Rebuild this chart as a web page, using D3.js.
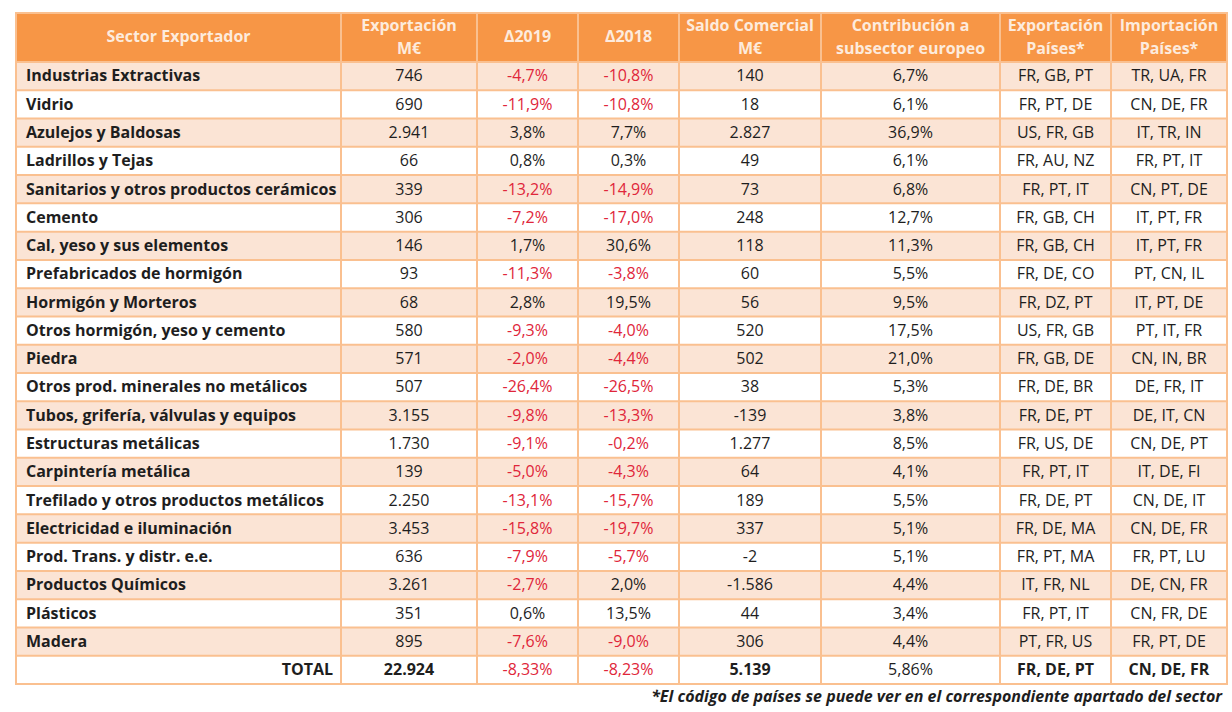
<!DOCTYPE html>
<html>
<head>
<meta charset="utf-8">
<script src="https://cdn.jsdelivr.net/npm/d3@7"></script>
<style>
  html, body { margin: 0; padding: 0; background: #fff; }
  svg text { font-family: "Open Sans", Lato, sans-serif; }
</style>
</head>
<body>
<svg id="chart" width="1232" height="712"></svg>
<script>
// ---------- DATA ----------
const headers = [
  ["Sector Exportador"],
  ["Exportación", "M€"],
  ["Δ2019"],
  ["Δ2018"],
  ["Saldo Comercial", "M€"],
  ["Contribución a", "subsector europeo"],
  ["Exportación", "Países*"],
  ["Importación", "Países*"]
];
const sectors = [
  "Industrias Extractivas", "Vidrio", "Azulejos y Baldosas", "Ladrillos y Tejas",
  "Sanitarios y otros productos cerámicos", "Cemento", "Cal, yeso y sus elementos",
  "Prefabricados de hormigón", "Hormigón y Morteros", "Otros hormigón, yeso y cemento",
  "Piedra", "Otros prod. minerales no metálicos", "Tubos, grifería, válvulas y equipos",
  "Estructuras metálicas", "Carpintería metálica", "Trefilado y otros productos metálicos",
  "Electricidad e iluminación", "Prod. Trans. y distr. e.e.", "Productos Químicos",
  "Plásticos", "Madera"
];
const exportacion = ["746","690","2.941","66","339","306","146","93","68","580","571","507","3.155","1.730","139","2.250","3.453","636","3.261","351","895"];
const delta2019 = ["-4,7%","-11,9%","3,8%","0,8%","-13,2%","-7,2%","1,7%","-11,3%","2,8%","-9,3%","-2,0%","-26,4%","-9,8%","-9,1%","-5,0%","-13,1%","-15,8%","-7,9%","-2,7%","0,6%","-7,6%"];
const delta2018 = ["-10,8%","-10,8%","7,7%","0,3%","-14,9%","-17,0%","30,6%","-3,8%","19,5%","-4,0%","-4,4%","-26,5%","-13,3%","-0,2%","-4,3%","-15,7%","-19,7%","-5,7%","2,0%","13,5%","-9,0%"];
const saldo = ["140","18","2.827","49","73","248","118","60","56","520","502","38","-139","1.277","64","189","337","-2","-1.586","44","306"];
const contribucion = ["6,7%","6,1%","36,9%","6,1%","6,8%","12,7%","11,3%","5,5%","9,5%","17,5%","21,0%","5,3%","3,8%","8,5%","4,1%","5,5%","5,1%","5,1%","4,4%","3,4%","4,4%"];
const expPaises = ["FR, GB, PT","FR, PT, DE","US, FR, GB","FR, AU, NZ","FR, PT, IT","FR, GB, CH","FR, GB, CH","FR, DE, CO","FR, DZ, PT","US, FR, GB","FR, GB, DE","FR, DE, BR","FR, DE, PT","FR, US, DE","FR, PT, IT","FR, DE, PT","FR, DE, MA","FR, PT, MA","IT, FR, NL","FR, PT, IT","PT, FR, US"];
const impPaises = ["TR, UA, FR","CN, DE, FR","IT, TR, IN","FR, PT, IT","CN, PT, DE","IT, PT, FR","IT, PT, FR","PT, CN, IL","IT, PT, DE","PT, IT, FR","CN, IN, BR","DE, FR, IT","DE, IT, CN","CN, DE, PT","IT, DE, FI","CN, DE, IT","CN, DE, FR","FR, PT, LU","DE, CN, FR","CN, FR, DE","FR, PT, DE"];
const totalRow = ["TOTAL","22.924","-8,33%","-8,23%","5.139","5,86%","FR, DE, PT","CN, DE, FR"];
const footnote = "*El código de países se puede ver en el correspondiente apartado del sector";

// ---------- LAYOUT ----------
const colEdges = [16, 341, 477, 578, 679, 821, 1000, 1111, 1227];
const tableTop = 13, headerBottom = 62, tableBottom = 684;
const FS = 16;
const C = {
  header: "#F79646", headerText: "#FDEBDD", band: "#FBE4D5",
  border: "#FAC090", text: "#1E1E1E", red: "#E0263A"
};

const svg = d3.select("#chart");
const rowKeys = sectors.concat(["TOTAL"]);
const y = d3.scaleBand().domain(rowKeys).range([headerBottom, tableBottom]);

const rows = sectors.map((s, i) => [s, exportacion[i], delta2019[i], delta2018[i], saldo[i], contribucion[i], expPaises[i], impPaises[i]]);
rows.push(totalRow);

// header background
svg.append("rect").attr("x", colEdges[0]).attr("y", tableTop)
  .attr("width", colEdges[8] - colEdges[0]).attr("height", headerBottom - tableTop)
  .attr("fill", C.header);

// row bands
svg.selectAll("rect.band").data(rowKeys).join("rect").attr("class", "band")
  .attr("x", colEdges[0]).attr("y", d => y(d))
  .attr("width", colEdges[8] - colEdges[0]).attr("height", y.bandwidth())
  .attr("fill", (d, i) => (i % 2 === 0 && d !== "TOTAL") ? C.band : "#fff");

// header text
headers.forEach((h, c) => {
  const cx = (colEdges[c] + colEdges[c + 1]) / 2;
  const t = svg.append("text").attr("x", cx).attr("text-anchor", "middle")
    .attr("fill", C.headerText).attr("font-weight", "bold").attr("font-size", FS);
  if (h.length === 1) {
    t.attr("y", 38).attr("dominant-baseline", "middle").text(h[0]);
  } else {
    t.append("tspan").attr("x", cx).attr("y", 27).attr("dominant-baseline", "middle").text(h[0]);
    t.append("tspan").attr("x", cx).attr("y", 50).attr("dominant-baseline", "middle").text(h[1]);
  }
});

// cell text
rows.forEach((r, ri) => {
  const isTotal = ri === rows.length - 1;
  const key = rowKeys[ri];
  const cy = y(key) + y.bandwidth() / 2 + 1;
  r.forEach((v, c) => {
    const isRed = (c === 2 || c === 3) && v.startsWith("-");
    let bold = false;
    if (c === 0) bold = true;
    if (isTotal && (c === 1 || c === 4 || c === 6 || c === 7)) bold = true;
    const t = svg.append("text")
      .attr("y", cy).attr("dominant-baseline", "middle")
      .attr("font-size", FS)
      .attr("font-weight", bold ? "bold" : "normal")
      .attr("fill", isRed ? C.red : C.text)
      .text(v);
    if (c === 0) {
      if (isTotal) t.attr("x", colEdges[1] - 8).attr("text-anchor", "end");
      else t.attr("x", colEdges[0] + 10).attr("text-anchor", "start");
    } else {
      t.attr("x", (colEdges[c] + colEdges[c + 1]) / 2).attr("text-anchor", "middle");
    }
  });
});

// grid lines
const g = svg.append("g").attr("stroke", C.border).attr("stroke-width", 2).attr("fill", "none");
rowKeys.forEach(k => {
  g.append("line").attr("x1", colEdges[0]).attr("x2", colEdges[8]).attr("y1", y(k)).attr("y2", y(k));
});
colEdges.slice(1, -1).forEach(x => {
  g.append("line").attr("x1", x).attr("x2", x).attr("y1", tableTop).attr("y2", tableBottom);
});
g.append("rect").attr("x", colEdges[0]).attr("y", tableTop)
  .attr("width", colEdges[8] - colEdges[0]).attr("height", tableBottom - tableTop);

// footnote
svg.append("text").attr("x", 1222).attr("y", 698).attr("text-anchor", "end")
  .attr("dominant-baseline", "middle").attr("font-size", FS)
  .attr("font-style", "italic").attr("font-weight", "bold").attr("fill", C.text)
  .text(footnote);
</script>
</body>
</html>
